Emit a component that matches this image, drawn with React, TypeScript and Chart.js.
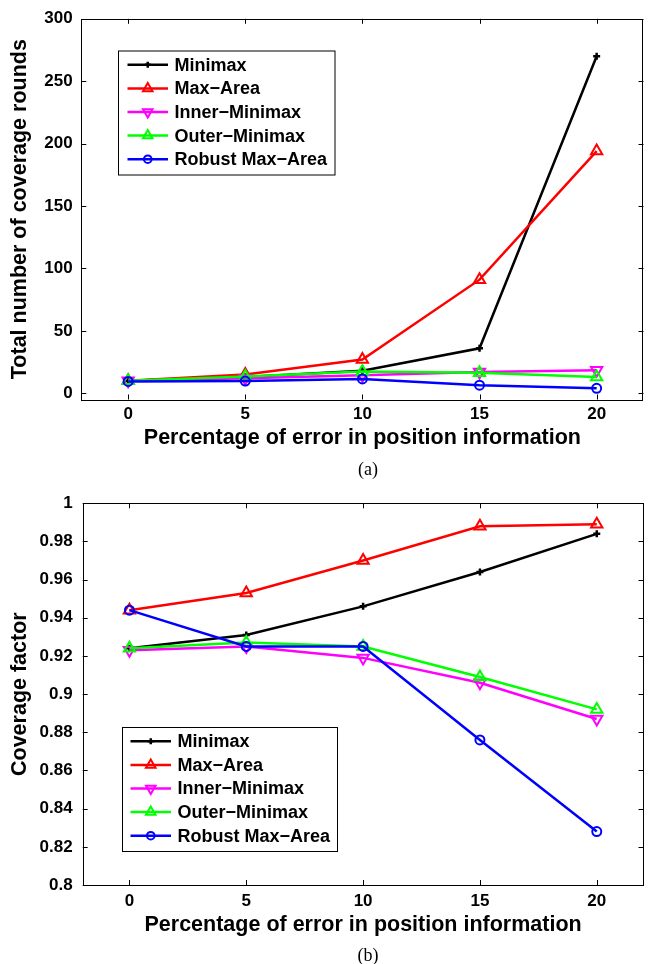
import React, { useEffect, useRef } from 'react';
import { Chart, registerables } from 'chart.js';
import { drawPoint } from 'chart.js/helpers';

Chart.register(...registerables);

// ---------- data ----------
const xValues = [0, 5, 10, 15, 20];
const xTickValues = [0, 5, 10, 15, 20];
const seriesNames = ['Minimax', 'Max−Area', 'Inner−Minimax', 'Outer−Minimax', 'Robust Max−Area'];

const roundsMinimax = [10, 13, 18, 36, 270];
const roundsMaxArea = [10, 15, 27, 91, 194];
const roundsInnerMinimax = [10, 12, 14.5, 17, 18.5];
const roundsOuterMinimax = [10, 13.5, 17.5, 16.5, 13];
const roundsRobustMaxArea = [9.5, 9.8, 11.5, 6.5, 4];
const roundsTicks = [0, 50, 100, 150, 200, 250, 300];

const factorMinimax = [0.924, 0.931, 0.946, 0.964, 0.984];
const factorMaxArea = [0.944, 0.953, 0.97, 0.988, 0.989];
const factorInnerMinimax = [0.923, 0.925, 0.919, 0.906, 0.887];
const factorOuterMinimax = [0.924, 0.927, 0.925, 0.909, 0.892];
const factorRobustMaxArea = [0.944, 0.925, 0.925, 0.876, 0.828];
const factorTicks = [0.8, 0.82, 0.84, 0.86, 0.88, 0.9, 0.92, 0.94, 0.96, 0.98, 1];

const xTitle = 'Percentage of error in position information';
const roundsTitle = 'Total number of coverage rounds';
const factorTitle = 'Coverage factor';

// ---------- styles ----------
const seriesStyles = [
  { color: '#000000', pointStyle: 'cross', radius: 3.5, rotation: 0, pointWidth: 2.5 },
  { color: '#ff0000', pointStyle: 'triangle', radius: 6.5, rotation: 0, pointWidth: 2 },
  { color: '#ff00ff', pointStyle: 'triangle', radius: 6.5, rotation: 180, pointWidth: 2 },
  { color: '#00ff00', pointStyle: 'triangle', radius: 6.5, rotation: 0, pointWidth: 2 },
  { color: '#0000ff', pointStyle: 'circle', radius: 4.5, rotation: 0, pointWidth: 2 },
];

const FONT = '"Liberation Sans", Arial, Helvetica, sans-serif';
const W = 652;
const H = 482;

const framePlugin = {
  id: 'matlabFrame',
  afterDraw(chart: any, _args: any, opts: any) {
    const { ctx, chartArea: a } = chart;
    const xs = chart.scales.x;
    const ys = chart.scales.y;
    const tl = 5;
    ctx.save();
    ctx.strokeStyle = '#000';
    ctx.lineWidth = 1;
    ctx.beginPath();
    for (const t of xs.ticks) {
      const px = Math.round(xs.getPixelForValue(t.value)) + 0.5;
      ctx.moveTo(px, a.bottom);
      ctx.lineTo(px, a.bottom - tl);
      ctx.moveTo(px, a.top);
      ctx.lineTo(px, a.top + tl);
    }
    for (const t of ys.ticks) {
      const py = Math.round(ys.getPixelForValue(t.value)) + 0.5;
      ctx.moveTo(a.left, py);
      ctx.lineTo(a.left + tl, py);
      ctx.moveTo(a.right, py);
      ctx.lineTo(a.right - tl, py);
    }
    ctx.stroke();
    ctx.strokeRect(Math.round(a.left) + 0.5, Math.round(a.top) + 0.5, Math.round(a.right - a.left) - 1, Math.round(a.bottom - a.top));

    // legend box
    const lg = opts.legend;
    if (lg) {
      ctx.fillStyle = '#fff';
      ctx.fillRect(lg.left, lg.top, lg.width, lg.height);
      ctx.strokeStyle = '#000';
      ctx.lineWidth = 1;
      ctx.strokeRect(lg.left + 0.5, lg.top + 0.5, lg.width, lg.height);
      chart.data.datasets.forEach((ds: any, i: number) => {
        const y = lg.firstRow + i * lg.rowGap;
        ctx.strokeStyle = ds.borderColor;
        ctx.lineWidth = ds.borderWidth;
        ctx.beginPath();
        ctx.moveTo(lg.lineFrom, y);
        ctx.lineTo(lg.lineTo, y);
        ctx.stroke();
        ctx.fillStyle = 'rgba(0,0,0,0)';
        ctx.lineWidth = ds.pointBorderWidth;
        drawPoint(ctx, {
          pointStyle: ds.pointStyle,
          rotation: ds.pointRotation,
          radius: ds.pointRadius * 0.85,
          borderWidth: ds.pointBorderWidth,
        }, (lg.lineFrom + lg.lineTo) / 2, y);
        ctx.fillStyle = '#000';
        ctx.font = `bold ${lg.fontSize}px ${FONT}`;
        ctx.textBaseline = 'middle';
        ctx.textAlign = 'left';
        ctx.fillText(ds.label, lg.textX, y + 1);
      });
    }
    ctx.restore();
  },
};

function makeDatasets(seriesValues: number[][]) {
  return seriesValues.map((vals, i) => {
    const st = seriesStyles[i];
    return {
      label: seriesNames[i],
      data: xValues.map((x, j) => ({ x, y: vals[j] })),
      borderColor: st.color,
      backgroundColor: 'rgba(0,0,0,0)',
      borderWidth: 2.5,
      pointStyle: st.pointStyle,
      pointRadius: st.radius,
      pointRotation: st.rotation,
      pointBorderWidth: st.pointWidth,
      pointBorderColor: st.color,
      pointBackgroundColor: 'rgba(0,0,0,0)',
      tension: 0,
      order: seriesValues.length - i,
    };
  });
}

function makeConfig(p: any): any {
  const tickFont = { family: FONT, size: 17, weight: 'bold' as const };
  const titleFont = { family: FONT, size: 21.5, weight: 'bold' as const };
  return {
    type: 'line',
    data: { datasets: makeDatasets(p.series) },
    plugins: [framePlugin],
    options: {
      responsive: false,
      animation: false,
      devicePixelRatio: 1,
      layout: { padding: { left: 0, top: p.areaTop, right: W - p.areaRight, bottom: 0 } },
      plugins: {
        legend: { display: false },
        tooltip: { enabled: false },
        matlabFrame: { legend: p.legend },
      },
      scales: {
        x: {
          type: 'linear',
          min: -2,
          max: 22,
          afterBuildTicks: (s: any) => { s.ticks = xTickValues.map((v) => ({ value: v })); },
          afterFit: (s: any) => { s.height = H - p.areaBottom; },
          grid: { display: false, drawTicks: false },
          border: { display: false },
          ticks: { font: tickFont, color: '#000', padding: p.xTickPad, maxRotation: 0, autoSkip: false, callback: (v: any) => String(v) },
          title: { display: true, text: xTitle, font: titleFont, color: '#000', padding: { top: 0, bottom: p.xTitlePad } },
        },
        y: {
          type: 'linear',
          min: p.yMin,
          max: p.yMax,
          afterBuildTicks: (s: any) => { s.ticks = p.yTicks.map((v: number) => ({ value: v })); },
          afterFit: (s: any) => { s.width = p.areaLeft; },
          grid: { display: false, drawTicks: false },
          border: { display: false },
          ticks: { font: tickFont, color: '#000', padding: p.yTickPad, autoSkip: false, callback: (v: any) => String(+Number(v).toFixed(2)) },
          title: { display: true, text: p.yTitle, font: titleFont, color: '#000', padding: { top: 7, bottom: 0 } },
        },
      },
    },
  };
}

export default function App() {
  const topRef = useRef<HTMLCanvasElement | null>(null);
  const botRef = useRef<HTMLCanvasElement | null>(null);

  useEffect(() => {
    Chart.defaults.font.family = FONT;
    const c1 = new Chart(topRef.current as HTMLCanvasElement, makeConfig({
      series: [roundsMinimax, roundsMaxArea, roundsInnerMinimax, roundsOuterMinimax, roundsRobustMaxArea],
      yMin: -5, yMax: 300, yTicks: roundsTicks, yTitle: roundsTitle,
      areaLeft: 81.3, areaRight: 651, areaTop: 17.7, areaBottom: 399.5,
      xTickPad: 5, xTitlePad: 31, yTickPad: 8.6,
      legend: { left: 118, top: 50.5, width: 216.5, height: 124, firstRow: 64.8, rowGap: 23.6, lineFrom: 127.5, lineTo: 168, textX: 174.5, fontSize: 18 },
    }));
    const c2 = new Chart(botRef.current as HTMLCanvasElement, makeConfig({
      series: [factorMinimax, factorMaxArea, factorInnerMinimax, factorOuterMinimax, factorRobustMaxArea],
      yMin: 0.8, yMax: 1, yTicks: factorTicks, yTitle: factorTitle,
      areaLeft: 82.7, areaRight: 651, areaTop: 21.3, areaBottom: 403,
      xTickPad: 6, xTitlePad: 26, yTickPad: 10,
      legend: { left: 122, top: 245, width: 215, height: 124, firstRow: 259.3, rowGap: 23.6, lineFrom: 130.5, lineTo: 171, textX: 177.5, fontSize: 18 },
    }));
    return () => { c1.destroy(); c2.destroy(); };
  }, []);

  const capStyle: React.CSSProperties = {
    position: 'absolute', left: 0, width: 736, textAlign: 'center',
    fontFamily: '"Liberation Serif", "Times New Roman", serif', fontSize: 18, lineHeight: '20px', color: '#000',
  };

  return (
    <div style={{ position: 'absolute', left: 0, top: 0, width: W, height: 964, background: '#fff', overflow: 'hidden' }}>
      <canvas ref={topRef} width={W} height={H} style={{ position: 'absolute', left: 0, top: 0, width: W, height: H }} />
      <canvas ref={botRef} width={W} height={H} style={{ position: 'absolute', left: 0, top: H, width: W, height: H }} />
      <div style={{ ...capStyle, top: 459 }}>(a)</div>
      <div style={{ ...capStyle, top: 945 }}>(b)</div>
    </div>
  );
}
